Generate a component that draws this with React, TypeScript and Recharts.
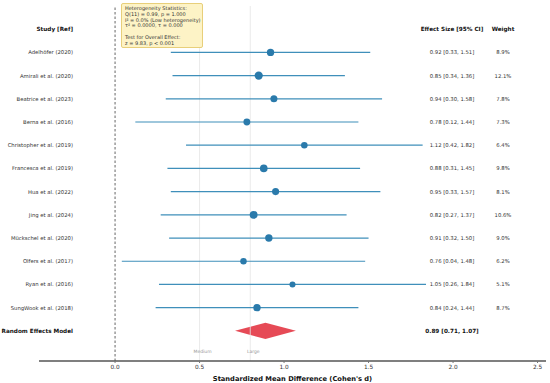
import * as React from "react";
import {
  ComposedChart,
  XAxis,
  YAxis,
  Scatter,
  ReferenceLine,
  ReferenceArea,
} from "recharts";

// studies, effect sizes and 95% CI
const studies = [
  "Adelhöfer (2020)",
  "Amirali et al. (2020)",
  "Beatrice et al. (2023)",
  "Berna et al. (2016)",
  "Christopher et al. (2019)",
  "Francesca et al. (2019)",
  "Hua et al. (2022)",
  "Jing et al. (2024)",
  "Mückschel et al. (2020)",
  "Olfers et al. (2017)",
  "Ryan et al. (2016)",
  "SungWook et al. (2018)",
];
const effects = [0.92, 0.85, 0.94, 0.78, 1.12, 0.88, 0.95, 0.82, 0.91, 0.76, 1.05, 0.84];
const lower = [0.33, 0.34, 0.3, 0.12, 0.42, 0.31, 0.33, 0.27, 0.32, 0.04, 0.26, 0.24];
const upper = [1.51, 1.36, 1.58, 1.44, 1.82, 1.45, 1.57, 1.37, 1.5, 1.48, 1.84, 1.44];
const weights = [8.9, 12.1, 7.8, 7.3, 6.4, 9.8, 8.1, 10.6, 9.0, 6.2, 5.1, 8.7];

const pooledEffect = 0.89;
const pooledLower = 0.71;
const pooledUpper = 1.07;

const xTicks = [0, 0.5, 1, 1.5, 2, 2.5];
const benchmarks = [
  { value: 0.5, name: "Medium" },
  { value: 0.8, name: "Large" },
];
const statsLines = [
  "Heterogeneity Statistics:",
  "Q(11) = 0.99, p = 1.000",
  "I² = 0.0% (Low heterogeneity)",
  "τ² = 0.0000, τ = 0.000",
  "",
  "Test for Overall Effect:",
  "z = 9.83, p < 0.001",
];

const FONT = "'DejaVu Sans', Verdana, sans-serif";
const LINE_COLOR = "#3f8fba";
const DOT_COLOR = "#2a7aab";
const NAME_X = 73;
const ES_X = 452;
const WEIGHT_X = 503;
const POOLED_ROW = 13;

const fmt = (v: number) => v.toFixed(2);

const rows = studies.map((name, i) => ({
  x: effects[i],
  y: i + 1,
  name,
  label: `${fmt(effects[i])} [${fmt(lower[i])}, ${fmt(upper[i])}]`,
  weight: `${weights[i].toFixed(1)}%`,
  w: weights[i],
}));

const textRows = [
  { x: 0, y: 0, name: "Study [Ref]", label: "Effect Size [95% CI]", weight: "Weight", bold: true },
  ...rows.map((r) => ({ ...r, bold: false })),
  {
    x: 0,
    y: POOLED_ROW,
    name: "Random Effects Model",
    label: `${fmt(pooledEffect)} [${fmt(pooledLower)}, ${fmt(pooledUpper)}]`,
    weight: "",
    bold: true,
  },
];

const TextShape = (props: any) => {
  const { cy, payload } = props;
  const size = payload.bold ? 5.7 : 5.3;
  const common = {
    y: cy,
    dominantBaseline: "central" as const,
    fontSize: size,
    fontFamily: FONT,
    fontWeight: payload.bold ? 700 : 400,
    fill: payload.bold ? "#111" : "#333",
  };
  return (
    <g>
      <text {...common} x={NAME_X} textAnchor="end">{payload.name}</text>
      <text {...common} x={ES_X} textAnchor="middle">{payload.label}</text>
      {payload.weight && (
        <text {...common} x={WEIGHT_X} textAnchor="middle">{payload.weight}</text>
      )}
    </g>
  );
};

const DotShape = (props: any) => {
  const { cx, cy, payload } = props;
  const r = 1 + 0.9 * Math.sqrt(payload.w);
  return <circle cx={cx} cy={cy} r={r} fill={DOT_COLOR} />;
};

const Diamond = (props: any) => {
  const { x, y, width, height } = props;
  const mx = x + width / 2;
  const my = y + height / 2;
  return (
    <polygon
      points={`${x},${my} ${mx},${y} ${x + width},${my} ${mx},${y + height}`}
      fill="#e5404d"
      opacity={0.95}
    />
  );
};

export default function App() {
  return (
    <div style={{ position: "absolute", left: 0, top: 0, width: 550, height: 383, background: "#fff" }}>
      <ComposedChart
        width={550}
        height={383}
        margin={{ top: 6, right: 4, bottom: 2, left: 39 }}
      >
        <XAxis
          type="number"
          dataKey="x"
          domain={[-0.45, 2.55]}
          ticks={xTicks}
          tickFormatter={(v: number) => v.toFixed(1)}
          height={20}
          tickSize={2}
          tickMargin={2}
          axisLine={{ stroke: "#555", strokeWidth: 1.3 }}
          tickLine={{ stroke: "#777" }}
          tick={{ fontSize: 5.8, fontFamily: FONT, fill: "#333" }}
          label={{
            value: "Standardized Mean Difference (Cohen's d)",
            position: "insideBottom",
            offset: 0,
            fontSize: 6.7,
            fontWeight: 700,
            fontFamily: FONT,
            fill: "#111",
          }}
        />
        <YAxis type="number" dataKey="y" hide domain={[-1, 14.3]} reversed />
        {benchmarks.map((b) => (
          <ReferenceLine
            key={b.name}
            x={b.value}
            stroke="#e4e4e4"
            strokeWidth={0.8}
            label={{
              value: b.name,
              position: "insideBottom",
              offset: 8,
              dx: 3,
              fontSize: 4.5,
              fontFamily: FONT,
              fill: "#999",
            }}
          />
        ))}
        <ReferenceLine x={0} stroke="#555" strokeWidth={0.9} strokeDasharray="2.5 2" />
        {rows.map((r, i) => (
          <ReferenceLine
            key={r.name}
            segment={[
              { x: lower[i], y: r.y },
              { x: upper[i], y: r.y },
            ]}
            stroke={LINE_COLOR}
            strokeWidth={1.2}
          />
        ))}
        <ReferenceArea
          x1={pooledLower}
          x2={pooledUpper}
          y1={POOLED_ROW - 0.35}
          y2={POOLED_ROW + 0.35}
          shape={Diamond}
        />
        <Scatter data={rows} shape={DotShape} isAnimationActive={false} />
        <Scatter data={textRows} shape={TextShape} isAnimationActive={false} />
      </ComposedChart>
      <div
        style={{
          position: "absolute",
          left: 121,
          top: 3,
          width: 82,
          height: 45,
          boxSizing: "border-box",
          background: "#fdf3c6",
          border: "1px solid #e8cf7a",
          borderRadius: 2,
          padding: "2px 3px",
          fontFamily: FONT,
          fontSize: 5,
          lineHeight: "5.8px",
          color: "#333",
          whiteSpace: "pre",
        }}
      >
        {statsLines.map((l, i) => (
          <div key={i} style={{ height: 5.8 }}>{l}</div>
        ))}
      </div>
    </div>
  );
}
